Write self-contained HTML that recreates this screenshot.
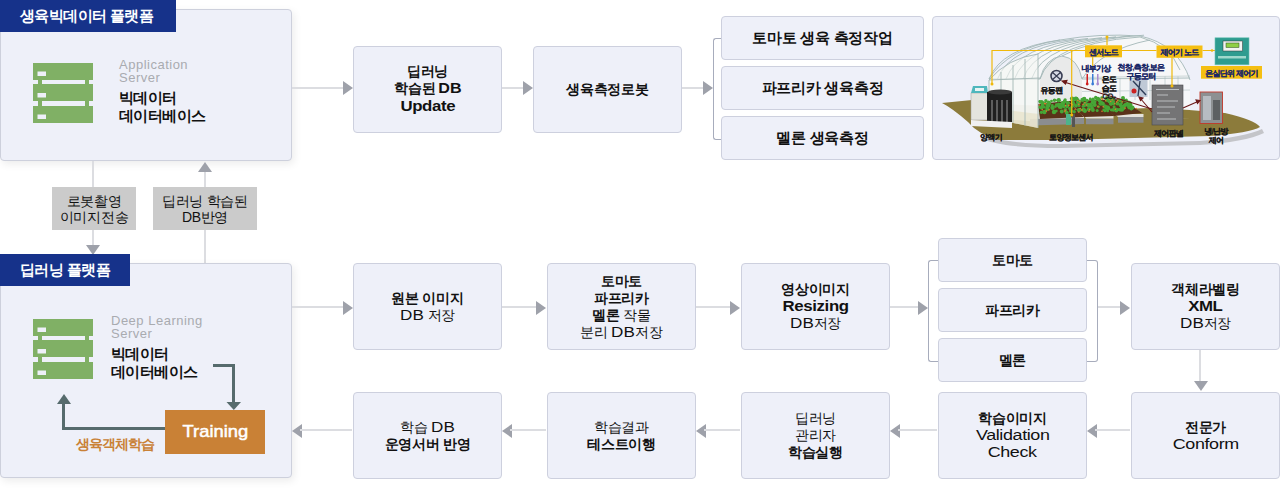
<!DOCTYPE html>
<html><head><meta charset="utf-8">
<style>
*{box-sizing:border-box;margin:0;padding:0}
html,body{width:1280px;height:488px;overflow:hidden;background:#fff}
body{position:relative;font-family:"Liberation Sans",sans-serif;color:#111}
.a{position:absolute}
.panel{position:absolute;background:#eef0f9;border:1px solid #cdd0dc;border-radius:4px;box-shadow:2px 3px 8px rgba(0,0,0,0.08)}
.lbl{position:absolute;background:#16328a;color:#fff;font-weight:bold;font-size:15px;line-height:32px;padding-left:20px;letter-spacing:-0.6px}
.box{position:absolute;background:#eef0f9;border:1px solid #cdd0de;border-radius:4px;display:flex;flex-direction:column;justify-content:center;align-items:center;text-align:center;font-size:14px;line-height:17px;color:#111;letter-spacing:-0.3px}
.box b{font-weight:bold}
.hl{position:absolute;background:#dcdde1;height:2px}
.vl{position:absolute;background:#dcdde1;width:2px}
.ar{position:absolute;width:0;height:0;border-style:solid}
.ar.r{border-width:7px 0 7px 10px;border-color:transparent transparent transparent #9ea1aa}
.ar.l{border-width:7px 10px 7px 0;border-color:transparent #9ea1aa transparent transparent}
.ar.d{border-width:10px 7px 0 7px;border-color:#9ea1aa transparent transparent transparent}
.ar.u{border-width:0 7px 10px 7px;border-color:transparent transparent #9ea1aa transparent}
.gray{position:absolute;background:#cbcbcb;font-size:14px;line-height:16px;text-align:center;display:flex;flex-direction:column;justify-content:center;color:#111;letter-spacing:-0.3px}
.brk{position:absolute;border:1px solid #a7acbc;border-right:none;border-radius:3px 0 0 3px}
.brkr{position:absolute;border:1px solid #a7acbc;border-left:none;border-radius:0 3px 3px 0}
.app{position:absolute;color:#a9abb0;font-size:13px;line-height:12.5px;letter-spacing:0.5px}
.sx{display:inline-block;transform:scaleX(1.28)}
.sxb{display:inline-block;transform:scaleX(1.2)}
.dbw{display:inline-block;width:24px;text-align:center;transform:scaleX(1.22);letter-spacing:0}
.db{position:absolute;color:#111;font-weight:bold;font-size:15px;line-height:18px;letter-spacing:-0.6px}
</style></head><body>

<!-- ===== Panel 1 ===== -->
<div class="panel" style="left:0;top:9;width:292px;height:152px;left:0px;top:9px"></div>
<div class="lbl" style="left:0;top:0;width:176px;height:32px">생육빅데이터 플랫폼</div>
<svg class="a" style="left:33px;top:63px" width="60" height="60" viewBox="0 0 60 60">
  <g fill="#80b065">
    <rect x="0" y="0" width="60" height="17"/>
    <rect x="0" y="21" width="60" height="17"/>
    <rect x="0" y="43" width="60" height="17"/>
    <rect x="5" y="16" width="4" height="28"/>
    <rect x="52" y="16" width="4" height="28"/>
  </g>
  <g fill="#eef0f9">
    <rect x="4.5" y="8.5" width="8.5" height="4.5"/>
    <rect x="4.5" y="30" width="8.5" height="4.5"/>
    <rect x="4.5" y="51.5" width="8.5" height="4.5"/>
  </g>
</svg>
<div class="app" style="left:119px;top:59px">Application<br>Server</div>
<div class="db" style="left:119px;top:89px">빅데이터<br>데이터베이스</div>

<!-- connectors between panels -->
<div class="vl" style="left:92px;top:161px;height:86px"></div>
<div class="ar d" style="left:86px;top:245px"></div>
<div class="vl" style="left:204px;top:171px;height:92px"></div>
<div class="ar u" style="left:198px;top:162px"></div>
<div class="gray" style="left:52px;top:187px;width:84px;height:43px">로봇촬영<br>이미지전송</div>
<div class="gray" style="left:153px;top:187px;width:104px;height:43px">딥러닝 학습된<br>DB반영</div>

<!-- ===== Top row ===== -->
<div class="hl" style="left:292px;top:87px;width:52px"></div>
<div class="ar r" style="left:343px;top:81px"></div>
<div class="box" style="left:353px;top:46px;width:149px;height:87px;padding-bottom:2px"><b>딥러닝</b><b>학습된 <i class="dbw" style="font-style:normal;width:22px;transform:scaleX(1.15)">DB</i></b><b class="sxb" style="margin-top:1px">Update</b></div>
<div class="hl" style="left:502px;top:87px;width:22px"></div>
<div class="ar r" style="left:523px;top:81px"></div>
<div class="box" style="left:533px;top:46px;width:149px;height:87px"><b>생육측정로봇</b></div>
<div class="hl" style="left:682px;top:87px;width:22px"></div>
<div class="ar r" style="left:703px;top:81px"></div>
<div class="brk" style="left:713px;top:38px;width:9px;height:102px"></div>
<div class="box" style="left:721px;top:16px;width:203px;height:44px;font-size:15px;padding-bottom:2px"><b>토마토 생육 측정작업</b></div>
<div class="box" style="left:721px;top:66px;width:203px;height:44px;font-size:15px;padding-bottom:2px"><b>파프리카 생육측정</b></div>
<div class="box" style="left:721px;top:116px;width:203px;height:44px;font-size:15px;padding-bottom:2px"><b>멜론 생육측정</b></div>

<div class="box" style="left:932px;top:16px;width:348px;height:144px"></div>
<svg class="a" style="left:932px;top:16px" width="348" height="144" viewBox="932 16 348 144">
  <defs>
    <clipPath id="ghc"><rect x="933" y="17" width="346" height="142" rx="3"/></clipPath>
  </defs>
  <g clip-path="url(#ghc)">
  <!-- ground shadow -->
  <path d="M985,136 Q1010,144 1060,144 L1200,141 Q1245,137 1262,129 L1264,133 Q1245,142 1200,145 L1060,148 Q1000,148 980,138 Z" fill="#c4c5c9"/>
  <!-- ground -->
  <path d="M942,103 L972,100 L1000,104 L1100,108 L1183,109.5 L1225,113 Q1255,120 1260,127 Q1250,133 1210,136 L1060,140 L998,140 Q978,134 968,122 Q952,108 942,103 Z" fill="#8c7b3b"/>
  <!-- dome back fill -->
  <path d="M989,80 Q1020,50 1076,40 Q1110,33 1140,36 Q1178,44 1190,80 L1190,118 L1040,122 L989,118 Z" fill="#f6f7f7" fill-opacity="0.9"/>
  <!-- back wall posts -->
  <g stroke="#c2cece" stroke-width="0.8" fill="none">
    <path d="M1050,78 V108 M1062,78 V106 M1074,78 V104 M1120,78 V100 M1135,77 V100 M1150,76 V100 M1165,76 V100 M1178,76 V110"/>
    <path d="M1040,78 L1190,76"/>
    <path d="M1040,92 L1190,90"/>
  </g>
  <!-- dome ribs -->
  <path d="M1040,79 Q1045,58 1062,56 Q1078,58 1082,79 L1082,104 L1040,106 Z" fill="#e9eaea"/>
  <g fill="none" stroke="#a4b8b8" stroke-width="0.9">
    <path d="M989,79 Q1008,48 1060,40 Q1100,33 1140,36 Q1178,44 1190,80"/>
    <path d="M989.0,79 Q1001.0,48.0 1060.0,40.0"/>
    <path d="M997.5,79 Q1009.5,46.8 1074.0,39.2"/>
    <path d="M1006.0,79 Q1018.0,45.6 1088.0,38.4"/>
    <path d="M1014.5,79 Q1026.5,44.4 1102.0,37.6"/>
    <path d="M1023.0,79 Q1035.0,43.2 1116.0,36.8"/>
    <path d="M1031.5,79 Q1043.5,42.0 1130.0,36.0"/>
    <path d="M1040.0,79 Q1052.0,40.8 1144.0,35.2"/>
    <path d="M1040,79 Q1045,58 1062,56 Q1078,58 1082,79"/>
    <path d="M1062,56 Q1090,40 1140,37"/>
    <path d="M1082,79 Q1100,50 1150,40"/>
    <path d="M1140,37 Q1170,45 1180,70"/>
    <path d="M989,79 L1040,79 M1082,79 L1190,78"/>
  </g>
  <!-- inside floor -->
  <path d="M1040,112 L1150,108 L1190,110 L1190,118 L1060,126 L1040,127 Z" fill="#8c7b3b"/>
  <!-- beds -->
  <path d="M1030,118 L1084,116.5 L1084,124 L1030,125.5 Z" fill="#8b8d8f"/>
  <path d="M1030,113 L1084,115 L1084,118 L1030,119 Z" fill="#e4e2da"/>
  <path d="M1086,118.5 L1113.5,118.5 L1113.5,124.2 L1086,124.2 Z" fill="#8b8d8f"/>
  <path d="M1084,116 L1113.5,116 L1113.5,118.5 L1086,118.5 Z" fill="#e4e2da"/>
  <path d="M1118,117 L1143.5,117 L1143.5,122.8 L1118,122.8 Z" fill="#8b8d8f"/>
  <path d="M1114,114 L1143.5,114 L1143.5,117 L1118,117 Z" fill="#e4e2da"/>
  <path d="M1038,104 L1068,101 L1084,117 L1040,119 Z" fill="#5a3219"/>
  <path d="M1068,101 L1098,100 L1114,116 L1084,117 Z" fill="#5a3219"/>
  <path d="M1095,100 L1122,99 L1142,113 L1114,116 Z" fill="#5a3219"/>
  <g fill="#46a636"><circle cx="1048.6" cy="102.5" r="1.9"/><circle cx="1041.5" cy="108.1" r="1.6"/><circle cx="1041.0" cy="107.8" r="1.3"/><circle cx="1051.5" cy="101.1" r="1.4"/><circle cx="1056.3" cy="111.1" r="1.4"/><circle cx="1047.4" cy="108.9" r="2.2"/><circle cx="1058.7" cy="105.0" r="2.2"/><circle cx="1041.3" cy="112.3" r="1.6"/><circle cx="1042.7" cy="102.6" r="1.6"/><circle cx="1064.5" cy="101.5" r="1.8"/><circle cx="1060.6" cy="104.5" r="1.8"/><circle cx="1040.0" cy="102.1" r="1.5"/><circle cx="1062.6" cy="105.2" r="1.6"/><circle cx="1059.5" cy="105.7" r="1.6"/><circle cx="1069.6" cy="108.5" r="1.5"/><circle cx="1059.7" cy="106.7" r="2.1"/><circle cx="1062.9" cy="103.2" r="2.2"/><circle cx="1042.8" cy="106.5" r="2.0"/><circle cx="1044.3" cy="107.3" r="1.3"/><circle cx="1065.4" cy="109.7" r="1.8"/><circle cx="1068.1" cy="103.1" r="1.9"/><circle cx="1060.9" cy="107.4" r="1.7"/><circle cx="1074.2" cy="111.7" r="1.7"/><circle cx="1058.5" cy="100.3" r="1.9"/><circle cx="1066.7" cy="112.8" r="2.0"/><circle cx="1048.5" cy="105.7" r="1.9"/><circle cx="1039.6" cy="107.3" r="1.5"/><circle cx="1041.7" cy="101.9" r="2.0"/><circle cx="1042.7" cy="104.3" r="1.7"/><circle cx="1065.1" cy="100.0" r="1.7"/><circle cx="1061.8" cy="111.5" r="2.0"/><circle cx="1067.3" cy="102.7" r="1.7"/><circle cx="1054.0" cy="112.0" r="2.2"/><circle cx="1043.1" cy="103.3" r="1.5"/><circle cx="1047.2" cy="107.1" r="1.8"/><circle cx="1045.9" cy="100.8" r="1.7"/><circle cx="1052.5" cy="107.8" r="2.2"/><circle cx="1063.8" cy="106.3" r="1.9"/><circle cx="1058.8" cy="100.2" r="2.1"/><circle cx="1071.0" cy="110.9" r="2.0"/><circle cx="1052.3" cy="105.5" r="1.4"/><circle cx="1057.6" cy="100.4" r="1.4"/><circle cx="1044.9" cy="103.0" r="1.6"/><circle cx="1039.6" cy="101.3" r="1.4"/><circle cx="1042.1" cy="105.9" r="1.3"/><circle cx="1071.7" cy="107.2" r="1.4"/><circle cx="1047.2" cy="105.2" r="1.6"/><circle cx="1044.4" cy="112.0" r="2.2"/><circle cx="1055.5" cy="106.5" r="1.4"/><circle cx="1042.1" cy="105.6" r="1.5"/><circle cx="1064.7" cy="101.2" r="1.3"/><circle cx="1073.4" cy="105.8" r="1.4"/><circle cx="1054.5" cy="100.2" r="1.8"/><circle cx="1078.9" cy="110.3" r="1.9"/><circle cx="1047.6" cy="105.5" r="1.5"/><circle cx="1067.0" cy="106.3" r="2.0"/><circle cx="1049.1" cy="103.4" r="2.0"/><circle cx="1079.0" cy="110.1" r="2.0"/><circle cx="1071.0" cy="109.0" r="1.5"/><circle cx="1056.3" cy="104.6" r="1.3"/><circle cx="1088.9" cy="109.1" r="2.2"/><circle cx="1085.3" cy="103.6" r="2.2"/><circle cx="1092.1" cy="100.1" r="1.4"/><circle cx="1084.8" cy="110.7" r="2.0"/><circle cx="1083.6" cy="109.6" r="2.2"/><circle cx="1092.5" cy="102.6" r="1.8"/><circle cx="1072.1" cy="98.6" r="2.2"/><circle cx="1094.7" cy="105.0" r="2.1"/><circle cx="1092.9" cy="109.9" r="2.0"/><circle cx="1077.8" cy="101.7" r="1.6"/><circle cx="1083.2" cy="106.2" r="1.5"/><circle cx="1082.4" cy="99.9" r="2.1"/><circle cx="1084.8" cy="104.4" r="1.8"/><circle cx="1100.8" cy="103.3" r="2.1"/><circle cx="1090.3" cy="105.2" r="1.8"/><circle cx="1074.5" cy="104.5" r="1.5"/><circle cx="1079.0" cy="109.4" r="1.5"/><circle cx="1092.1" cy="107.9" r="1.8"/><circle cx="1084.8" cy="105.2" r="1.8"/><circle cx="1093.0" cy="99.2" r="1.8"/><circle cx="1079.2" cy="102.0" r="2.0"/><circle cx="1090.9" cy="105.6" r="2.0"/><circle cx="1101.4" cy="103.6" r="1.9"/><circle cx="1090.1" cy="105.0" r="1.9"/><circle cx="1088.8" cy="105.3" r="1.7"/><circle cx="1105.8" cy="107.1" r="2.1"/><circle cx="1099.8" cy="101.1" r="1.8"/><circle cx="1107.7" cy="109.0" r="1.4"/><circle cx="1077.7" cy="104.4" r="1.4"/><circle cx="1076.2" cy="99.3" r="1.9"/><circle cx="1103.7" cy="109.9" r="1.4"/><circle cx="1098.5" cy="106.8" r="1.4"/><circle cx="1107.6" cy="110.8" r="1.5"/><circle cx="1102.0" cy="103.0" r="1.7"/><circle cx="1109.0" cy="108.8" r="1.4"/><circle cx="1088.0" cy="105.1" r="1.6"/><circle cx="1078.2" cy="102.6" r="1.9"/><circle cx="1076.1" cy="106.0" r="1.7"/><circle cx="1073.1" cy="103.0" r="1.9"/><circle cx="1084.2" cy="98.9" r="2.2"/><circle cx="1104.9" cy="110.9" r="1.4"/><circle cx="1076.5" cy="98.8" r="2.0"/><circle cx="1077.9" cy="100.0" r="1.7"/><circle cx="1106.5" cy="108.7" r="1.5"/><circle cx="1085.0" cy="110.9" r="1.8"/><circle cx="1090.2" cy="99.0" r="1.4"/><circle cx="1094.4" cy="103.6" r="1.4"/><circle cx="1104.8" cy="106.2" r="2.0"/><circle cx="1082.2" cy="110.1" r="1.4"/><circle cx="1100.1" cy="103.8" r="1.6"/><circle cx="1097.2" cy="110.5" r="1.5"/><circle cx="1079.0" cy="105.5" r="1.5"/><circle cx="1073.5" cy="100.6" r="1.3"/><circle cx="1078.3" cy="102.5" r="1.6"/><circle cx="1094.7" cy="101.7" r="1.8"/><circle cx="1078.1" cy="103.0" r="1.3"/><circle cx="1075.7" cy="98.5" r="2.0"/><circle cx="1087.1" cy="100.5" r="1.7"/><circle cx="1097.5" cy="99.0" r="2.0"/><circle cx="1087.7" cy="104.8" r="2.1"/><circle cx="1130.5" cy="103.1" r="1.5"/><circle cx="1126.3" cy="100.2" r="1.6"/><circle cx="1101.2" cy="102.7" r="1.7"/><circle cx="1111.9" cy="99.6" r="1.8"/><circle cx="1099.4" cy="101.1" r="1.4"/><circle cx="1106.5" cy="97.6" r="1.3"/><circle cx="1107.0" cy="100.2" r="1.8"/><circle cx="1121.7" cy="106.5" r="1.9"/><circle cx="1129.1" cy="107.7" r="1.7"/><circle cx="1120.0" cy="110.0" r="1.4"/><circle cx="1125.3" cy="104.7" r="1.3"/><circle cx="1132.6" cy="107.5" r="1.9"/><circle cx="1128.4" cy="106.8" r="1.4"/><circle cx="1117.5" cy="103.4" r="2.1"/><circle cx="1130.6" cy="106.8" r="1.8"/><circle cx="1130.7" cy="104.9" r="1.9"/><circle cx="1101.7" cy="97.7" r="1.4"/><circle cx="1106.5" cy="98.5" r="2.1"/><circle cx="1120.5" cy="104.9" r="1.9"/><circle cx="1121.6" cy="102.9" r="1.3"/><circle cx="1129.1" cy="105.9" r="1.8"/><circle cx="1120.4" cy="105.3" r="1.4"/><circle cx="1119.1" cy="99.9" r="1.4"/><circle cx="1114.1" cy="106.8" r="1.5"/><circle cx="1131.3" cy="108.8" r="1.7"/><circle cx="1113.2" cy="103.3" r="1.9"/><circle cx="1126.1" cy="104.3" r="1.9"/><circle cx="1099.5" cy="99.4" r="1.5"/><circle cx="1120.2" cy="100.5" r="1.8"/><circle cx="1096.3" cy="98.3" r="1.5"/><circle cx="1124.7" cy="105.5" r="1.9"/><circle cx="1111.3" cy="104.0" r="1.7"/><circle cx="1109.6" cy="98.6" r="2.1"/><circle cx="1116.3" cy="110.3" r="2.1"/><circle cx="1102.9" cy="103.7" r="2.0"/><circle cx="1128.8" cy="101.9" r="1.5"/><circle cx="1116.1" cy="109.8" r="1.5"/><circle cx="1113.1" cy="98.7" r="1.8"/><circle cx="1123.0" cy="98.1" r="2.0"/><circle cx="1123.4" cy="108.3" r="1.9"/><circle cx="1115.9" cy="109.1" r="1.7"/><circle cx="1095.7" cy="97.5" r="1.7"/><circle cx="1112.2" cy="100.9" r="1.4"/><circle cx="1109.5" cy="101.3" r="2.1"/><circle cx="1107.2" cy="107.7" r="2.1"/><circle cx="1113.3" cy="109.8" r="1.9"/><circle cx="1124.2" cy="100.1" r="1.6"/><circle cx="1122.1" cy="110.0" r="1.8"/><circle cx="1111.8" cy="102.7" r="1.5"/><circle cx="1098.0" cy="98.8" r="2.1"/><circle cx="1118.0" cy="109.5" r="1.5"/><circle cx="1110.5" cy="104.0" r="1.5"/><circle cx="1120.8" cy="109.5" r="2.1"/><circle cx="1127.5" cy="104.4" r="2.1"/><circle cx="1129.7" cy="103.2" r="1.9"/><circle cx="1108.2" cy="107.3" r="1.7"/><circle cx="1126.1" cy="104.7" r="1.6"/><circle cx="1111.3" cy="110.0" r="1.4"/><circle cx="1113.4" cy="101.4" r="1.6"/><circle cx="1131.3" cy="108.8" r="1.5"/></g>
  <g fill="#e07a2a"><circle cx="1039.4" cy="105.0" r="0.8"/><circle cx="1049.1" cy="109.7" r="0.8"/><circle cx="1072.5" cy="104.7" r="0.8"/><circle cx="1078.8" cy="112.1" r="0.8"/><circle cx="1071.4" cy="103.6" r="0.8"/><circle cx="1045.6" cy="103.8" r="0.8"/><circle cx="1044.7" cy="103.5" r="0.8"/><circle cx="1064.9" cy="111.6" r="0.8"/><circle cx="1068.8" cy="105.4" r="0.8"/><circle cx="1065.2" cy="110.2" r="0.8"/><circle cx="1042.3" cy="109.7" r="0.8"/><circle cx="1075.1" cy="109.3" r="0.8"/><circle cx="1065.6" cy="105.6" r="0.8"/><circle cx="1046.4" cy="111.1" r="0.8"/><circle cx="1086.7" cy="105.0" r="0.8"/><circle cx="1102.0" cy="111.2" r="0.8"/><circle cx="1089.6" cy="109.5" r="0.8"/><circle cx="1097.9" cy="106.4" r="0.8"/><circle cx="1084.9" cy="102.8" r="0.8"/><circle cx="1071.4" cy="100.2" r="0.8"/><circle cx="1080.2" cy="108.5" r="0.8"/><circle cx="1077.9" cy="100.5" r="0.8"/><circle cx="1082.0" cy="109.9" r="0.8"/><circle cx="1103.2" cy="106.7" r="0.8"/><circle cx="1079.8" cy="101.5" r="0.8"/><circle cx="1083.0" cy="104.5" r="0.8"/><circle cx="1078.8" cy="104.4" r="0.8"/><circle cx="1089.0" cy="111.3" r="0.8"/><circle cx="1117.7" cy="100.6" r="0.8"/><circle cx="1116.6" cy="101.9" r="0.8"/><circle cx="1102.2" cy="99.5" r="0.8"/><circle cx="1115.4" cy="109.3" r="0.8"/><circle cx="1112.1" cy="99.8" r="0.8"/><circle cx="1136.3" cy="108.6" r="0.8"/><circle cx="1109.5" cy="98.8" r="0.8"/><circle cx="1101.7" cy="98.5" r="0.8"/><circle cx="1105.7" cy="98.3" r="0.8"/><circle cx="1105.7" cy="100.7" r="0.8"/><circle cx="1125.1" cy="108.1" r="0.8"/><circle cx="1122.2" cy="101.8" r="0.8"/><circle cx="1114.8" cy="103.8" r="0.8"/><circle cx="1110.7" cy="101.5" r="0.8"/></g>
  <!-- front face -->
  <path d="M989,80 Q1008,58 1038,54 L1038,128 L989,118 Z" fill="#f5f6f3" fill-opacity="0.6"/>
  <path d="M989,108 L1038,114 L1038,128 L989,118 Z" fill="#e8e4cc" fill-opacity="0.8"/>
  <g fill="none" stroke="#a3b6b4" stroke-width="0.9">
    <path d="M989,80 Q1008,58 1038,54"/>
    <path d="M989,80 L989,118 M1001,72 L1001,120.5 M1013,65 L1013,123 M1025,59 L1025,125.5 M1038,54 L1038,128"/>
    <path d="M989,80 L1040,78"/>
  </g>
  <!-- nutrient machine -->
  <rect x="971" y="93" width="17" height="27" fill="#e4e4de" stroke="#9a9a9a" stroke-width="0.5"/>
  <path d="M971,93 L973,86 L987,86 L988,93 Z" fill="#4fb7bd"/>
  <rect x="975" y="88" width="9" height="3" fill="#e8f4f4"/>
  <rect x="987" y="92" width="25" height="30" fill="#1f1f1f"/>
  <ellipse cx="1000" cy="92" rx="12" ry="2.5" fill="#3a3a3a"/>
  <g stroke="#bdbdbd" stroke-width="0.8"><path d="M992,100 V124 M997,100 V124 M1002,100 V124 M1007,100 V124"/></g>
  <path d="M971,120 L1012,122 L1012,128 L971,126 Z" fill="#f0f0f0"/>
  <!-- soil sensor -->
  <rect x="1066" y="114" width="5" height="11" fill="#4db38a"/>
  <rect x="1072" y="114" width="3" height="13" fill="#555"/>
  <!-- control panel -->
  <rect x="1152" y="85" width="31" height="40" fill="#747475" stroke="#4a4a4a" stroke-width="0.6"/>
  <g stroke="#c4c7ca" stroke-width="0.9"><path d="M1156,89.5 H1179 M1157,95 H1168 M1157,101 H1178 M1157,107 H1175 M1157,113 H1170 M1157,119 H1176"/></g>
  <!-- cooling image -->
  <rect x="1200" y="92" width="22.5" height="31.5" fill="#8d9092" stroke="#c0392b" stroke-width="0.9"/>
  <rect x="1203" y="96" width="8" height="24" fill="#b7bcc2"/>
  <rect x="1213" y="100" width="7" height="20" fill="#5d6062"/>
  <!-- motor image -->
  <rect x="1129.5" y="79.5" width="18" height="17.5" fill="#bfc9d6"/>
  <path d="M1133,81 L1146,95 M1140,81 L1138,96" stroke="#2f3f5a" stroke-width="1.4"/>
  <circle cx="1134" cy="91" r="2.5" fill="#c22"/>
  <!-- fan -->
  <circle cx="1056.5" cy="76" r="5.5" fill="#d7dae6" stroke="#3a3f55" stroke-width="1.6"/>
  <path d="M1052,72 L1061,80 M1061,72 L1052,80" stroke="#3a3f55" stroke-width="1.3"/>
  <!-- thermometers -->
  <rect x="1086.5" y="74" width="1.5" height="9" fill="#d02020"/><circle cx="1087.2" cy="84" r="1.4" fill="#d02020"/>
  <rect x="1092" y="74" width="1.5" height="9" fill="#3a7bd5"/><circle cx="1092.7" cy="84" r="1.4" fill="#3a7bd5"/>
  <rect x="1097" y="74" width="1.5" height="9" fill="#a98ad0"/><circle cx="1097.7" cy="84" r="1.4" fill="#a98ad0"/>
  <!-- red arrows -->
  <g stroke="#6b1818" stroke-width="1.1" fill="#6b1818">
    <path d="M1152,109 L1064,82" fill="none"/><path d="M1062,81 L1067,80.5 L1065.5,84 Z"/>
    <path d="M1152,112 L1140,98" fill="none"/><path d="M1139,97 L1143,98 L1140.5,100.5 Z"/>
    <path d="M1183,108 L1199,101" fill="none"/><path d="M1200,100.5 L1196,100 L1197.5,103.5 Z"/>
  </g>
  <!-- yellow lines -->
  <g stroke="#f0b90b" stroke-width="1.2" fill="none">
    <path d="M992,84 V50.5 H1085 M1122,50.5 H1156.5 M1202.5,50.5 H1215"/>
    <path d="M1071.7,50.5 V115"/>
    <path d="M1107,45 V37"/>
    <path d="M1092.7,57 V71"/>
    <path d="M1172,57 V86"/>
  </g>
  <g fill="#f0b90b"><circle cx="992" cy="84" r="1.5"/><circle cx="1107" cy="37" r="1.5"/><circle cx="1071.7" cy="115" r="1.5"/><circle cx="1172" cy="86" r="1.5"/><circle cx="1212" cy="50.5" r="1.3"/></g>
  <rect x="1085" y="45.3" width="37" height="12" fill="#f5bf12"/>
  <rect x="1156.5" y="45.5" width="46" height="12.3" fill="#f5bf12"/>
  <rect x="1201" y="66" width="61" height="12.7" fill="#f5bf12"/>
  <!-- teal controller -->
  <rect x="1215" y="37.8" width="34" height="27" fill="#2e9c90" stroke="#6cc4b6" stroke-width="0.6"/>
  <rect x="1223" y="41" width="19.5" height="10" fill="#f2f4f2" stroke="#333" stroke-width="0.5"/>
  <rect x="1226" y="43" width="13" height="4.5" fill="#8fcf45" stroke="#2a4a20" stroke-width="0.5"/>
  <rect x="1218" y="56" width="28" height="2.5" fill="#9fd8cc"/>
  <!-- labels -->
  <g font-family="Liberation Sans, sans-serif" font-weight="bold" fill="#161616" stroke="#161616" stroke-width="0.15" font-size="8px" letter-spacing="-0.7" text-rendering="geometricPrecision">
    <text x="991" y="140" text-anchor="middle">양액기</text>
    <text x="1071" y="139.5" text-anchor="middle">토양정보센서</text>
    <text x="1168.5" y="135.5" text-anchor="middle">제어판넬</text>
    <text x="1216" y="133.5" text-anchor="middle">냉/난방</text>
    <text x="1216" y="142.5" text-anchor="middle">제어</text>
    <text x="1051.5" y="92.5" text-anchor="middle">유동팬</text>
    <text x="1109" y="82" text-anchor="middle">온도</text>
    <text x="1109" y="90.5" text-anchor="middle">습도</text>
    <text x="1109" y="99" text-anchor="middle">CO₂</text>
  </g>
  <g font-family="Liberation Sans, sans-serif" font-weight="bold" fill="#1b2866" stroke="#1b2866" stroke-width="0.15" font-size="8px" letter-spacing="-0.7" text-rendering="geometricPrecision">
    <text x="1096" y="71" text-anchor="middle">내부기상</text>
    <text x="1141" y="69.5" text-anchor="middle">천창,측창,보온</text>
    <text x="1141" y="78.5" text-anchor="middle">구동모터</text>
    <text x="1103.5" y="54.5" text-anchor="middle">센서노드</text>
    <text x="1179.5" y="55" text-anchor="middle">제어기 노드</text>
    <text x="1231.5" y="75.8" text-anchor="middle">온실단위 제어기</text>
  </g>
  </g>
</svg>


<!-- ===== Panel 2 ===== -->
<div class="panel" style="left:0px;top:263px;width:292px;height:215px"></div>
<div class="lbl" style="left:0;top:254px;width:130px;height:32px">딥러닝 플랫폼</div>
<svg class="a" style="left:33px;top:319px" width="60" height="60" viewBox="0 0 60 60">
  <g fill="#80b065">
    <rect x="0" y="0" width="60" height="17"/>
    <rect x="0" y="21" width="60" height="17"/>
    <rect x="0" y="43" width="60" height="17"/>
    <rect x="5" y="16" width="4" height="28"/>
    <rect x="52" y="16" width="4" height="28"/>
  </g>
  <g fill="#eef0f9">
    <rect x="4.5" y="8.5" width="8.5" height="4.5"/>
    <rect x="4.5" y="30" width="8.5" height="4.5"/>
    <rect x="4.5" y="51.5" width="8.5" height="4.5"/>
  </g>
</svg>
<div class="app" style="left:111px;top:315px">Deep Learning<br>Server</div>
<div class="db" style="left:111px;top:345px">빅데이터<br>데이터베이스</div>
<svg class="a" style="left:0;top:0" width="292" height="488">
  <polyline points="213,365.5 233.5,365.5 233.5,403" fill="none" stroke="#566b6d" stroke-width="3"/>
  <polygon points="226.5,402 241,402 233.8,410" fill="#566b6d"/>
  <polyline points="165,428.5 63.5,428.5 63.5,403" fill="none" stroke="#566b6d" stroke-width="3"/>
  <polygon points="57,404 71,404 64,394" fill="#566b6d"/>
</svg>
<div class="a" style="left:165px;top:410px;width:100px;height:44px;background:#c98136;color:#fff;font-size:17px;line-height:44px;text-align:center"><span style="display:inline-block;transform:scaleX(1.08);-webkit-text-stroke:0.5px #fff">Training</span></div>
<div class="a" style="left:76px;top:436px;color:#c98136;font-size:14px;line-height:16px;letter-spacing:-1px;font-weight:bold">생육객체학습</div>

<!-- ===== Row 2 ===== -->
<div class="hl" style="left:292px;top:306px;width:52px"></div>
<div class="ar r" style="left:343px;top:301px"></div>
<div class="box" style="left:353px;top:263px;width:149px;height:87px"><b>원본 이미지</b><span><i class="dbw" style="font-style:normal">DB</i> 저장</span></div>
<div class="hl" style="left:502px;top:306px;width:36px"></div>
<div class="ar r" style="left:536px;top:301px"></div>
<div class="box" style="left:547px;top:263px;width:149px;height:87px"><b>토마토</b><b>파프리카</b><span><b>멜론</b> 작물</span><span>분리 <i class="dbw" style="font-style:normal">DB</i>저장</span></div>
<div class="hl" style="left:696px;top:306px;width:36px"></div>
<div class="ar r" style="left:730px;top:301px"></div>
<div class="box" style="left:741px;top:263px;width:149px;height:87px"><b>영상이미지</b><b class="sxb">Resizing</b><span><i class="dbw" style="font-style:normal">DB</i>저장</span></div>
<div class="hl" style="left:890px;top:306px;width:29px"></div>
<div class="ar r" style="left:918px;top:301px"></div>
<div class="brk" style="left:928px;top:260px;width:11px;height:102px"></div>
<div class="brkr" style="left:1087px;top:260px;width:11px;height:102px"></div>
<div class="box" style="left:938px;top:238px;width:149px;height:44px"><b>토마토</b></div>
<div class="box" style="left:938px;top:288px;width:149px;height:44px"><b>파프리카</b></div>
<div class="box" style="left:938px;top:338px;width:149px;height:44px"><b>멜론</b></div>
<div class="hl" style="left:1098px;top:306px;width:23px"></div>
<div class="ar r" style="left:1120px;top:301px"></div>
<div class="box" style="left:1131px;top:263px;width:149px;height:87px"><b>객체라벨링</b><b class="sxb">XML</b><span><i class="dbw" style="font-style:normal">DB</i>저장</span></div>
<div class="vl" style="left:1199px;top:350px;height:32px"></div>
<div class="ar d" style="left:1194px;top:381px"></div>

<!-- ===== Row 3 ===== -->
<div class="ar l" style="left:292px;top:424px"></div>
<div class="hl" style="left:300px;top:429px;width:52px"></div>
<div class="box" style="left:353px;top:392px;width:149px;height:87px"><span>학습 <i class="dbw" style="font-style:normal">DB</i></span><b>운영서버 반영</b></div>
<div class="ar l" style="left:502px;top:424px"></div>
<div class="hl" style="left:510px;top:429px;width:36px"></div>
<div class="box" style="left:547px;top:392px;width:149px;height:87px"><span>학습결과</span><b>테스트이행</b></div>
<div class="ar l" style="left:696px;top:424px"></div>
<div class="hl" style="left:704px;top:429px;width:36px"></div>
<div class="box" style="left:741px;top:392px;width:149px;height:87px"><span>딥러닝</span><span>관리자</span><b>학습실행</b></div>
<div class="ar l" style="left:890px;top:424px"></div>
<div class="hl" style="left:898px;top:429px;width:39px"></div>
<div class="box" style="left:938px;top:392px;width:149px;height:87px"><b>학습이미지</b><span class="sx">Validation</span><span class="sx">Check</span></div>
<div class="ar l" style="left:1087px;top:424px"></div>
<div class="hl" style="left:1095px;top:429px;width:35px"></div>
<div class="box" style="left:1131px;top:392px;width:149px;height:87px"><b>전문가</b><span class="sx">Conform</span></div>

</body></html>
